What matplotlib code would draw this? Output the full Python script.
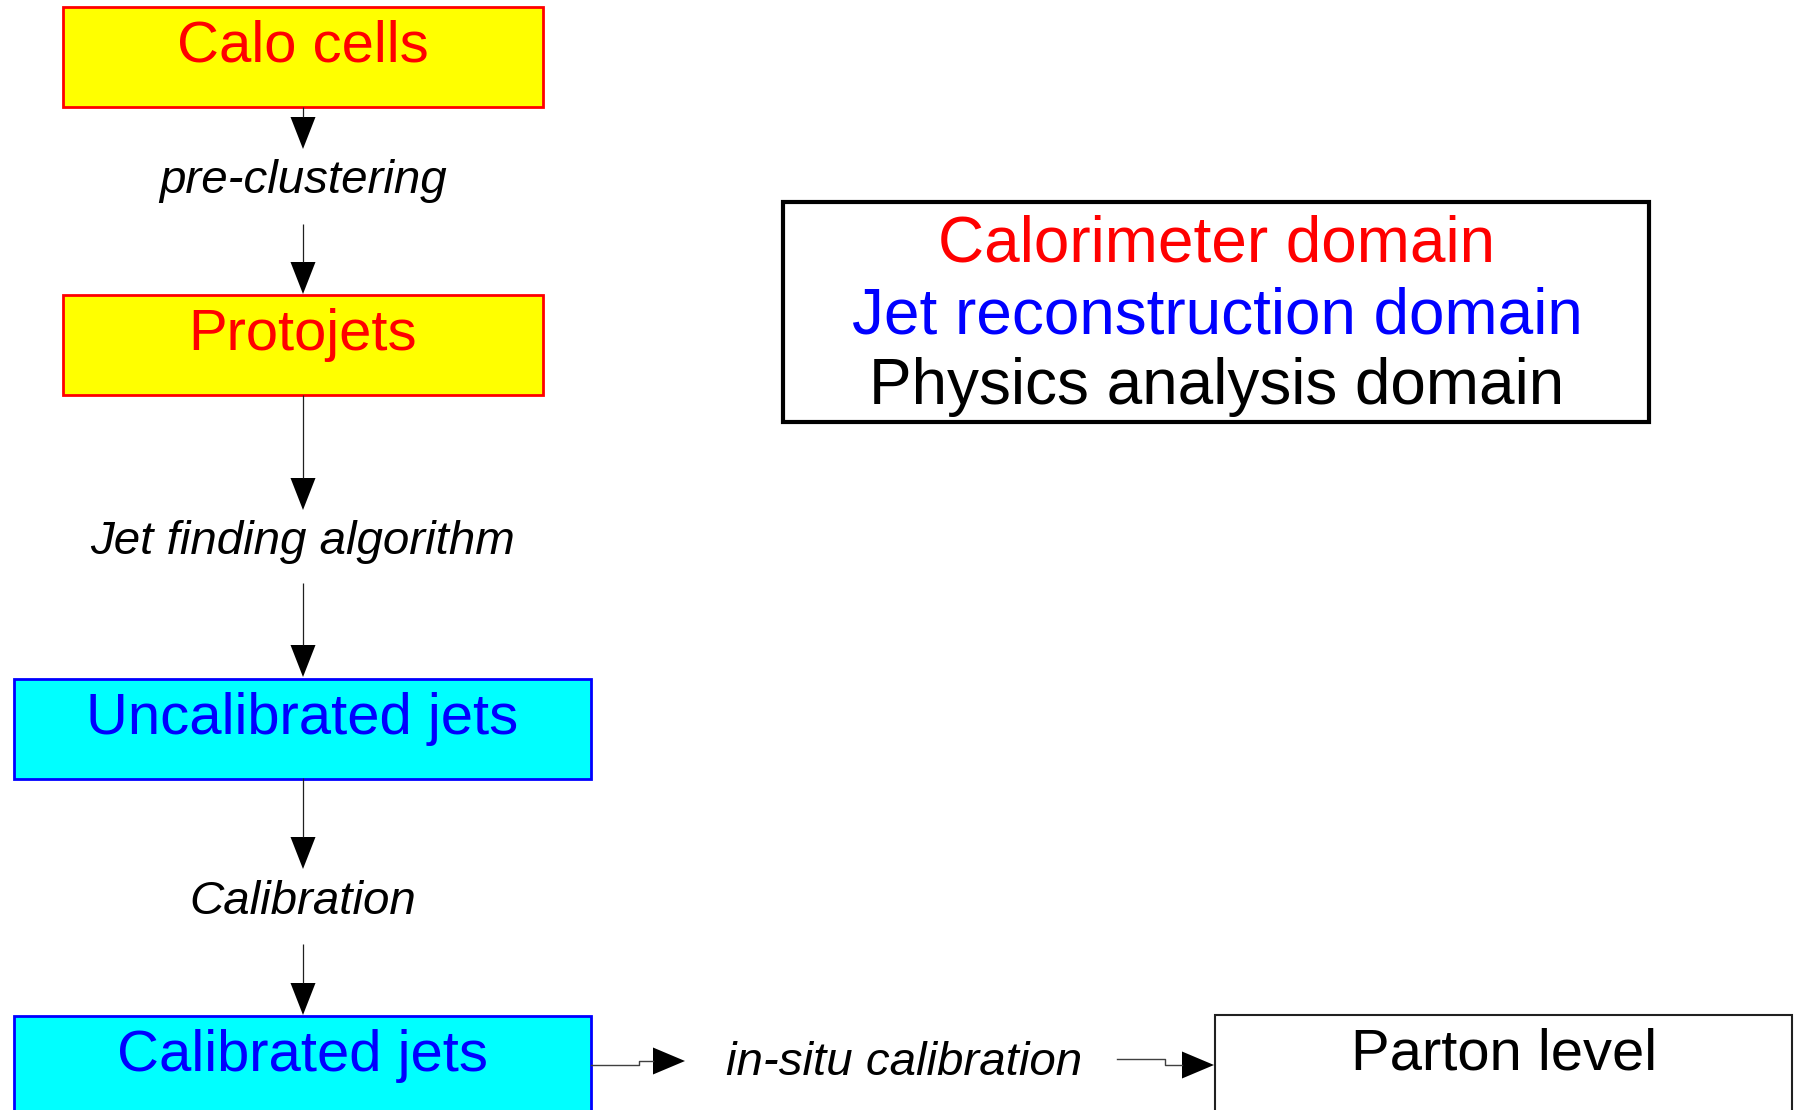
import matplotlib
matplotlib.use("Agg")
import matplotlib.pyplot as plt
from matplotlib.patches import Rectangle, Polygon

plt.rcParams['font.family'] = ['Liberation Sans', 'DejaVu Sans']

# left column, top to bottom
box_labels = ["Calo cells", "Protojets", "Uncalibrated jets", "Calibrated jets"]
box_domains = ["calo", "calo", "jet", "jet"]
step_labels = ["pre-clustering", "Jet finding algorithm", "Calibration"]

# bottom row
side_step = "in-situ calibration"
side_box = "Parton level"

# legend box
legend_lines = ["Calorimeter domain", "Jet reconstruction domain", "Physics analysis domain"]
legend_domains = ["calo", "jet", "phys"]

domain_style = {
    "calo": dict(face="#ffff00", edge="#ff0000", text="#ff0000"),
    "jet": dict(face="#00ffff", edge="#0000ff", text="#0000ff"),
    "phys": dict(face="white", edge="#202020", text="black"),
}

# layout in pixels (y goes down)
W, H = 1800, 1110
col_x = 303
box_x = [63, 63, 14, 14]
box_w = [480, 480, 577, 577]
box_top = [7, 295, 679, 1016]
box_h = [100, 100, 100, 130]
step_base = [193, 554, 914]
arrow_segs = [(107, 149), (224, 294), (395, 510), (583, 677), (778, 869), (944, 1015)]
HL, HW = 32, 12.5

fig = plt.figure(figsize=(W / 100, H / 100), dpi=100)
ax = fig.add_axes([0, 0, 1, 1])
ax.set_xlim(0, W)
ax.set_ylim(H, 0)
ax.axis("off")


def arrow_down(x, y0, y1):
    ax.plot([x, x], [y0, y1 - HL], color="#202020", lw=0.9, solid_capstyle="butt")
    ax.add_patch(Polygon([(x - HW, y1 - HL), (x + HW, y1 - HL), (x, y1)],
                         closed=True, fc="black", ec="none"))


def arrow_right(xs, ys):
    ax.plot(xs, ys, color="#404040", lw=1.0)
    x, y = xs[-1], ys[-1]
    ax.add_patch(Polygon([(x, y - 13.5), (x, y + 13.5), (x + HL, y)],
                         closed=True, fc="black", ec="none"))


for lab, dom, x, w, top, h in zip(box_labels, box_domains, box_x, box_w, box_top, box_h):
    st = domain_style[dom]
    ax.add_patch(Rectangle((x, top), w, h, fc=st["face"], ec=st["edge"], lw=2.0))
    ax.text(x + w / 2, top + 55, lab, color=st["text"], fontsize=41.8,
            ha="center", va="baseline")

for lab, yb in zip(step_labels, step_base):
    ax.text(col_x, yb, lab, fontsize=34.2, style="italic", ha="center", va="baseline")

for y0, y1 in arrow_segs:
    arrow_down(col_x, y0, y1)

# bottom row: in-situ calibration -> Parton level
arrow_right([591, 639, 639, 653], [1065, 1065, 1061, 1061])
ax.text(904, 1075, side_step, fontsize=34.2, style="italic", ha="center", va="baseline")
arrow_right([1117, 1165, 1165, 1182], [1059, 1059, 1065, 1065])
st = domain_style["phys"]
ax.add_patch(Rectangle((1215, 1015), 577, 130, fc=st["face"], ec=st["edge"], lw=1.5))
ax.text(1504, 1069, side_box, color=st["text"], fontsize=41.8, ha="center", va="baseline")

# legend
ax.add_patch(Rectangle((783, 202), 866, 220, fc="white", ec="black", lw=3.0))
for i, (lab, dom) in enumerate(zip(legend_lines, legend_domains)):
    ax.text(1217, 262 + 71 * i, lab, color=domain_style[dom]["text"], fontsize=46,
            ha="center", va="baseline")

fig.savefig("out.png", dpi=100)
